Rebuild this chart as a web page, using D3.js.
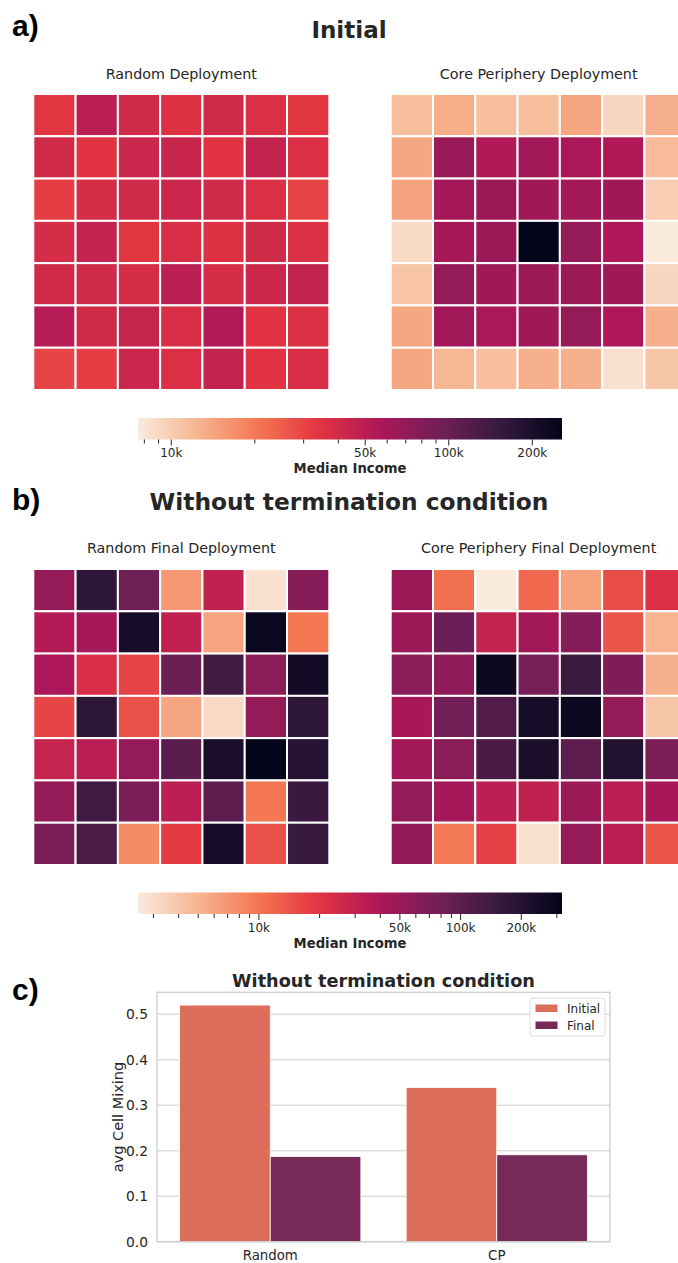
<!DOCTYPE html>
<html>
<head>
<meta charset="utf-8">
<script src="https://cdn.jsdelivr.net/npm/d3@7"></script>
<style>
  body { margin: 0; background: #fff; }
  svg { display: block; font-family: "DejaVu Sans", sans-serif; }
</style>
</head>
<body>
<svg id="chart" width="678" height="1263"></svg>
<script>
// median income per cell, 7x7 grids (dollars)
const initRandom = [
  [34000, 50500, 40500, 35500, 40500, 37000, 34000],
  [40500, 34500, 42500, 44000, 34500, 46000, 37000],
  [32000, 38500, 40500, 42500, 40500, 36000, 30500],
  [38500, 46000, 34000, 37500, 35500, 40500, 36000],
  [40500, 40500, 38500, 49000, 38500, 42000, 46000],
  [52000, 40500, 44500, 37500, 54000, 34500, 36000],
  [30500, 32000, 42500, 37000, 46000, 34500, 37500]
];
const initCP = [
  [11400, 13300, 11400, 11400, 14100, 9300, 13000],
  [14000, 66500, 55400, 61700, 57800, 55400, 11800],
  [14400, 60900, 65500, 63600, 61700, 63600, 10000],
  [8900, 59600, 65500, 257000, 69200, 56600, 7620],
  [10900, 69200, 63600, 65500, 65500, 63600, 9300],
  [14000, 61700, 57800, 63600, 69200, 56600, 13000],
  [14000, 12200, 11600, 13000, 13000, 8400, 10700]
];
const finalRandom = [
  [52700, 174000, 82000, 6900, 31400, 2830, 63300],
  [36800, 44000, 236000, 31400, 6050, 290000, 10100],
  [40200, 22800, 17000, 85000, 136000, 59700, 256000],
  [16800, 179000, 14700, 6000, 3180, 52700, 174000],
  [29300, 34900, 52700, 104000, 233000, 320000, 195000],
  [52700, 139000, 71000, 33100, 99000, 10000, 153000],
  [71000, 122000, 8000, 19000, 243000, 15000, 155000]
];
const finalCP = [
  [48800, 10700, 2530, 11500, 6200, 15400, 21600],
  [48800, 86000, 30000, 44900, 62400, 14100, 5000],
  [59700, 56400, 286000, 76000, 150000, 66800, 5200],
  [42600, 77600, 114000, 239000, 286000, 52700, 4100],
  [44900, 59700, 125000, 227000, 99000, 208000, 71000],
  [52700, 44000, 33100, 31700, 48800, 34900, 42600],
  [55800, 9700, 17800, 2900, 52700, 34900, 14200]
];

// colorbar ticks
const cbMajor = [10000, 50000, 100000, 200000];
const cbMinor = [3000, 4000, 5000, 6000, 7000, 8000, 9000, 20000, 30000, 40000,
  60000, 70000, 80000, 90000, 300000];

// bar chart
const barCategories = ['Random', 'CP'];
const barSeries = ['Initial', 'Final'];
const barInitial = [0.520, 0.339];
const barFinal = [0.187, 0.191];
const barTicks = [0.0, 0.1, 0.2, 0.3, 0.4, 0.5];
const barColors = ['#db6d5a', '#772a57'];

// rocket colormap (dark -> light), reversed for the heatmaps
const rocketStops = ['#03051a', '#35193e', '#701f57', '#ad1759', '#e13342', '#f37651', '#f6b48f', '#faebdd'];
const rocket = d3.piecewise(d3.interpolateRgb, rocketStops);
const rocketR = t => rocket(1 - t);

const svg = d3.select('svg#chart');
const ink = '#262626';
const hmSize = 296;

function heatmap(grid, x0, y0, color) {
    const x = d3.scaleBand().domain(d3.range(7)).range([x0, x0 + hmSize]);
    const y = d3.scaleBand().domain(d3.range(7)).range([y0, y0 + hmSize]);
    const cells = grid.flatMap((row, r) => row.map((v, c) => ({ r, c, v })));
    svg.append('g')
        .selectAll('rect')
        .data(cells)
        .enter()
        .append('rect')
        .attr('x', d => x(d.c))
        .attr('y', d => y(d.r))
        .attr('width', x.bandwidth())
        .attr('height', y.bandwidth())
        .attr('fill', d => color(d.v))
        .attr('stroke', '#fff')
        .attr('stroke-width', 2);
}

function colorbar(y0, domain, id) {
    const x = d3.scaleLog().domain(domain).range([138, 562]);
    const grad = svg.append('defs').append('linearGradient')
        .attr('id', id)
        .attr('x1', '0%').attr('x2', '100%');
    d3.range(0, 1.0001, 0.02).forEach(t => {
        grad.append('stop').attr('offset', t).attr('stop-color', rocketR(t));
    });
    svg.append('rect')
        .attr('x', 138).attr('y', y0)
        .attr('width', 424).attr('height', 21.5)
        .attr('fill', `url(#${id})`);

    const inRange = v => v >= domain[0] && v <= domain[1];
    const minor = svg.append('g')
        .attr('transform', `translate(0, ${y0 + 21.5})`)
        .call(d3.axisBottom(x).tickValues(cbMinor.filter(inRange)).tickSize(4).tickFormat(''));
    const major = svg.append('g')
        .attr('transform', `translate(0, ${y0 + 21.5})`)
        .call(d3.axisBottom(x).tickValues(cbMajor.filter(inRange)).tickSize(6).tickPadding(3)
            .tickFormat(d => d / 1000 + 'k'));
    [minor, major].forEach(g => {
        g.select('.domain').remove();
        g.selectAll('line').attr('stroke', ink).attr('stroke-width', 1);
        g.selectAll('text')
            .attr('fill', ink)
            .style('font-family', '"DejaVu Sans", sans-serif')
            .style('font-size', '12px');
    });

    svg.append('text')
        .attr('x', 350).attr('y', y0 + 55)
        .attr('text-anchor', 'middle')
        .attr('fill', ink)
        .style('font-size', '13.2px')
        .style('font-weight', 'bold')
        .text('Median Income');
}

function panelLabel(txt, y) {
    svg.append('text')
        .attr('x', 12).attr('y', y)
        .style('font-family', '"Liberation Sans", Arial, sans-serif')
        .style('font-weight', 'bold')
        .style('font-size', '30px')
        .attr('fill', '#000')
        .text(txt);
}

function title(txt, x, y, size, bold) {
    svg.append('text')
        .attr('x', x).attr('y', y)
        .attr('text-anchor', 'middle')
        .attr('fill', ink)
        .style('font-size', size)
        .style('font-weight', bold ? 'bold' : 'normal')
        .text(txt);
}

// a) initial
const domA = d3.extent(initRandom.flat().concat(initCP.flat()));
const colorA = d3.scaleSequentialLog(rocketR).domain(domA);
panelLabel('a)', 36);
title('Initial', 349, 38, '23px', true);
title('Random Deployment', 33.3 + hmSize / 2, 79, '14.3px', false);
title('Core Periphery Deployment', 390.7 + hmSize / 2, 79, '14.3px', false);
heatmap(initRandom, 33.3, 94, colorA);
heatmap(initCP, 390.7, 94, colorA);
colorbar(418, domA, 'gradA');

// b) final
const domB = d3.extent(finalRandom.flat().concat(finalCP.flat()));
const colorB = d3.scaleSequentialLog(rocketR).domain(domB);
panelLabel('b)', 510);
title('Without termination condition', 349, 510, '23.3px', true);
title('Random Final Deployment', 33.3 + hmSize / 2, 553, '14.3px', false);
title('Core Periphery Final Deployment', 390.7 + hmSize / 2, 553, '14.3px', false);
heatmap(finalRandom, 33.3, 569, colorB);
heatmap(finalCP, 390.7, 569, colorB);
colorbar(892.5, domB, 'gradB');

// c) bar chart
panelLabel('c)', 1000);
const plot = { left: 157, right: 610, top: 992.3, bottom: 1241.7 };
const xBar = d3.scaleBand().domain(barCategories)
    .range([plot.left, plot.right]).paddingInner(0.2).paddingOuter(0.1);
const xHue = d3.scaleBand().domain(barSeries).range([0, xBar.bandwidth()]);
const yBar = d3.scaleLinear().domain([0, d3.max(barInitial.concat(barFinal)) * 1.054])
    .range([plot.bottom, plot.top]);

svg.append('g')
    .selectAll('line')
    .data(barTicks)
    .enter()
    .append('line')
    .attr('x1', plot.left).attr('x2', plot.right)
    .attr('y1', d => yBar(d)).attr('y2', d => yBar(d))
    .attr('stroke', '#dddddd')
    .attr('stroke-width', 1.5);

const barRows = barCategories.flatMap((c, i) => [
    { cat: c, series: 'Initial', v: barInitial[i] },
    { cat: c, series: 'Final', v: barFinal[i] }
]);
svg.append('g')
    .selectAll('rect')
    .data(barRows)
    .enter()
    .append('rect')
    .attr('x', d => xBar(d.cat) + xHue(d.series))
    .attr('y', d => yBar(d.v))
    .attr('width', xHue.bandwidth())
    .attr('height', d => yBar(0) - yBar(d.v))
    .attr('fill', d => barColors[barSeries.indexOf(d.series)])
    .attr('stroke', '#fff')
    .attr('stroke-width', 0.8);

svg.append('rect')
    .attr('x', plot.left).attr('y', plot.top)
    .attr('width', plot.right - plot.left).attr('height', plot.bottom - plot.top)
    .attr('fill', 'none')
    .attr('stroke', '#cccccc')
    .attr('stroke-width', 1.25);

svg.append('g')
    .selectAll('text')
    .data(barTicks)
    .enter()
    .append('text')
    .attr('x', 148)
    .attr('y', d => yBar(d))
    .attr('dy', '0.36em')
    .attr('text-anchor', 'end')
    .attr('fill', ink)
    .style('font-size', '13.8px')
    .text(d => d.toFixed(1));

svg.append('g')
    .selectAll('text')
    .data(barCategories)
    .enter()
    .append('text')
    .attr('x', d => xBar(d) + xBar.bandwidth() / 2)
    .attr('y', 1260)
    .attr('text-anchor', 'middle')
    .attr('fill', ink)
    .style('font-size', '13.3px')
    .text(d => d);

svg.append('text')
    .attr('transform', `translate(123, ${(plot.top + plot.bottom) / 2}) rotate(-90)`)
    .attr('text-anchor', 'middle')
    .attr('fill', ink)
    .style('font-size', '14.5px')
    .text('avg Cell Mixing');

title('Without termination condition', (plot.left + plot.right) / 2, 987, '17.7px', true);

// legend
const legend = svg.append('g').attr('transform', 'translate(530, 998)');
legend.append('rect')
    .attr('width', 75).attr('height', 38).attr('rx', 3)
    .attr('fill', '#fff').attr('fill-opacity', 0.8)
    .attr('stroke', '#dddddd');
barSeries.forEach((s, i) => {
    legend.append('rect')
        .attr('x', 5.5).attr('y', 6.5 + i * 17)
        .attr('width', 22).attr('height', 7.5)
        .attr('fill', barColors[i]);
    legend.append('text')
        .attr('x', 37).attr('y', 10.5 + i * 17)
        .attr('dy', '0.36em')
        .attr('fill', ink)
        .style('font-size', '12px')
        .text(s);
});
</script>
</body>
</html>
